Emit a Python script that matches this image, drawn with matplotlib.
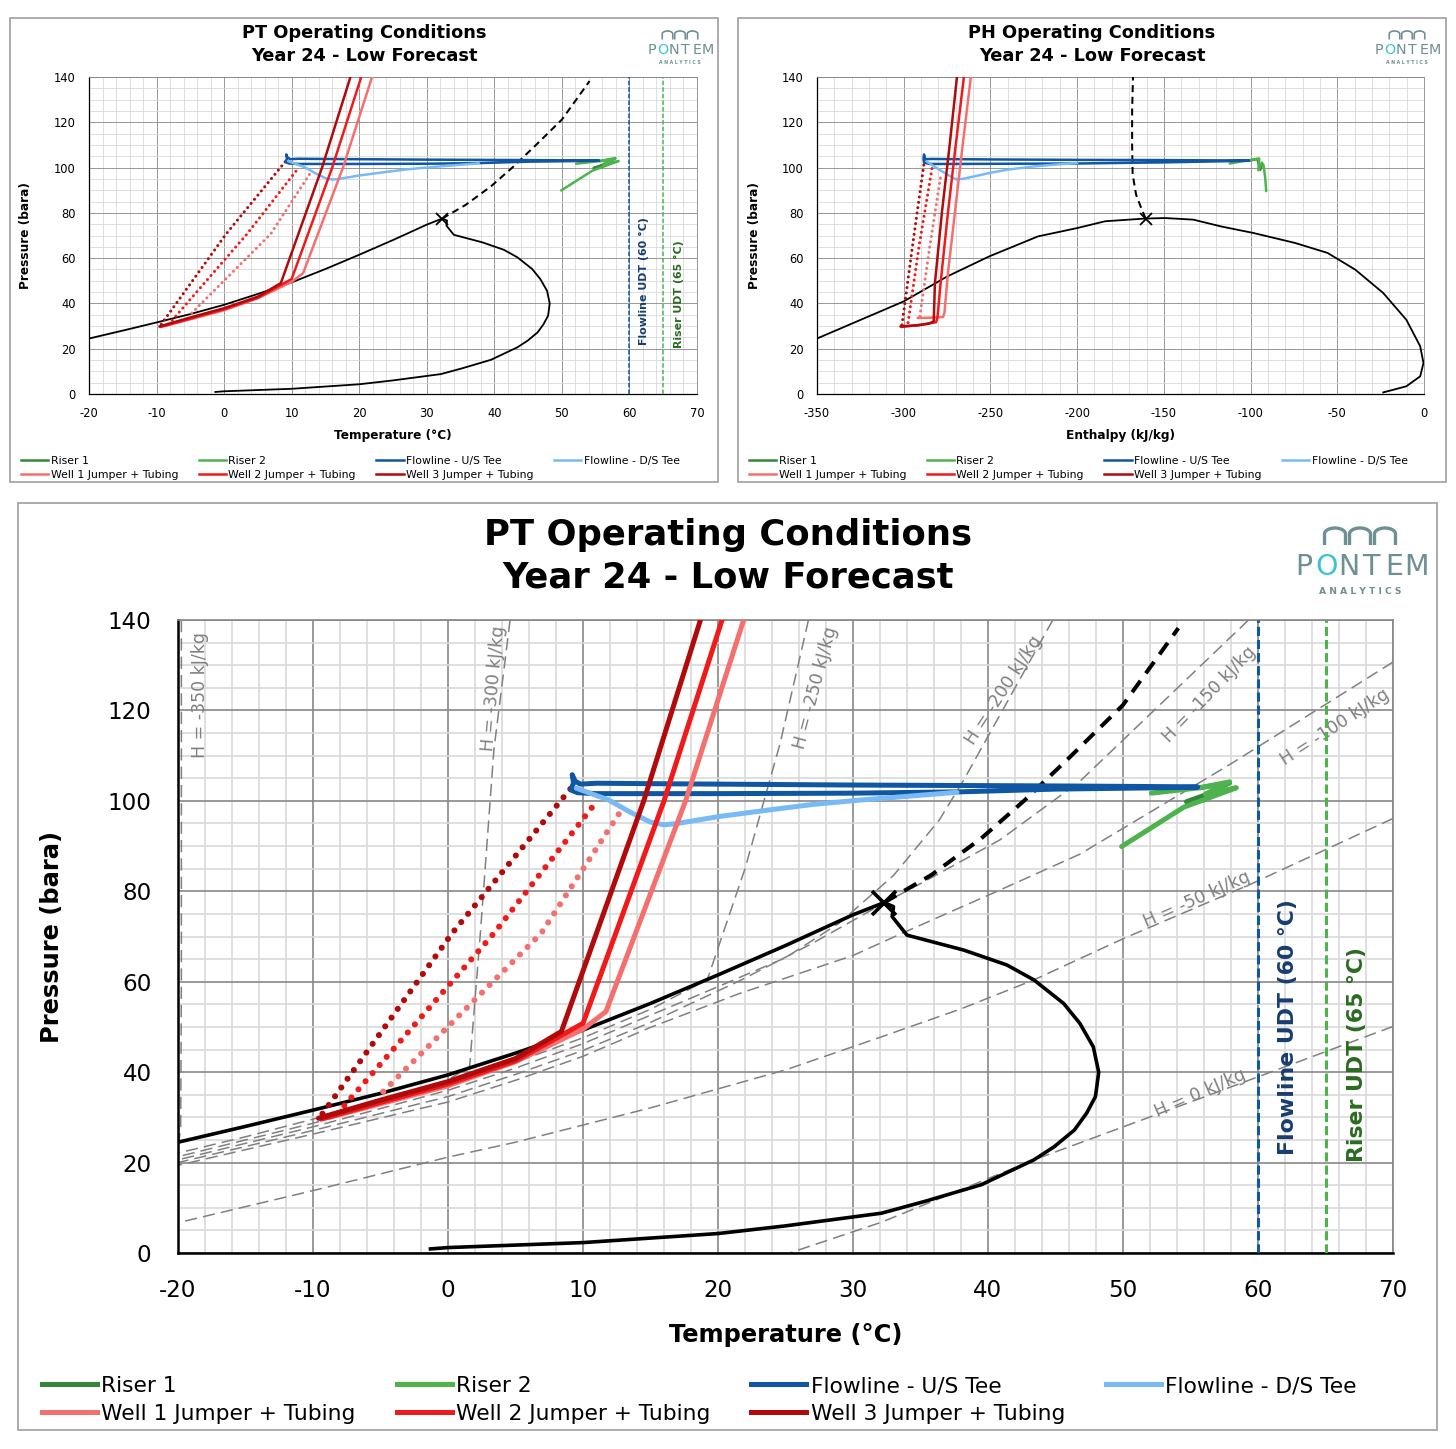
import numpy as np
import matplotlib
matplotlib.use("Agg")
import matplotlib.pyplot as plt
from matplotlib.lines import Line2D
from matplotlib.patches import Rectangle
from matplotlib.ticker import MultipleLocator

plt.rcParams['axes.unicode_minus'] = False
plt.rcParams['font.family'] = 'DejaVu Sans'

W, H = 1456, 1449

# ---------------- data ----------------
# phase envelope in P-T space
env_t = [-20, -15, -10, -5, 0, 5, 10, 15, 20, 25, 30, 32.3, 33.0, 32.9, 34.0, 38.2, 41.4, 43.4,
         45.6, 46.8, 47.8, 48.2, 47.96, 47.3, 46.4, 44.9, 43.4, 39.5, 35.3, 32.1, 25.0, 20.0, 10.0, 0.0, -1.3]
env_p = [24.5, 28.0, 31.6, 35.3, 39.4, 44.2, 49.3, 55.2, 61.5, 68.0, 74.8, 77.5, 76.6, 74.4, 70.3, 67.0, 63.7, 60.4,
         55.2, 50.8, 45.6, 40.0, 34.6, 30.9, 27.2, 23.5, 20.6, 15.1, 11.4, 8.8, 6.0, 4.3, 2.3, 1.2, 0.9]
crit_t, crit_p = 32.3, 77.5
# dense phase continuation above the critical point
dense_t = [32.3, 35.8, 39.5, 42.7, 46.0, 50.0, 54.1]
dense_p = [77.5, 83.6, 91.7, 100.1, 109.5, 121.2, 138.2]

# phase envelope in P-H space
ph_env_h = [-350, -300, -274.7, -250.6, -222.6, -199.9, -183.8, -160.5, -149, -133, -117, -98.3, -74.3,
            -55.6, -39.6, -23.5, -10.2, -2.2, -0.3, -2.2, -10.2, -23.5]
ph_env_p = [24.5, 40.9, 52.0, 60.8, 69.6, 73.3, 76.3, 77.5, 77.7, 77.0, 74.0, 71.1, 66.7,
            62.3, 54.9, 44.6, 32.8, 21.1, 13.7, 7.8, 3.4, 0.7]
ph_crit_h = -160.5
ph_dense_h = [-160.5, -163, -166, -168, -168.3, -168.3, -167.8]
ph_dense_p = [77.5, 82, 88, 97, 110, 125, 140]

# isenthalps (kJ/kg) in P-T space
isen_h = [-350, -300, -250, -200, -150, -100, -50, 0]
isen_t = [
    [-19.75, -19.75, -19.8, -20.0],
    [4.6, 3.4, 2.4, 1.6, 0, -5, -10, -15, -20],
    [26.7, 24.6, 22.0, 19.2, 15, 10, 5, 0, -10, -20],
    [44.8, 38.2, 36.4, 33.0, 29.0, 25, 20, 15, 10, 5, 0, -10, -20],
    [59.3, 46.8, 40.9, 35.5, 32.3, 27, 21.6, 15, 10, 5, 0, -10, -20],
    [70, 58, 46.8, 40.9, 34.0, 30, 21.6, 15, 10, 5, 0, -10, -20],
    [70, 59.4, 50, 43.4, 38, 32.1, 25, 15, 5, 0, -10, -20],
    [70, 56.0, 43.4, 32.1, 25.3],
]
isen_p = [
    [140, 60, 28, 22.8],
    [140, 111.3, 70.8, 41.2, 38.3, 33.6, 29.6, 25.7, 22.1],
    [140, 112.7, 85, 60.4, 53.9, 47.6, 42.2, 37.2, 28.7, 21.3],
    [140, 104.6, 95.8, 83.5, 73.0, 65.3, 58.9, 52.6, 46.3, 40.9, 36.0, 27.9, 20.6],
    [140, 104.3, 91.4, 82.5, 77.4, 68.5, 60.2, 51.0, 44.8, 39.5, 34.6, 27.1, 20.0],
    [130.7, 108.2, 88.2, 80.3, 71.2, 65.8, 57.4, 49.9, 43.5, 38.2, 33.4, 26.3, 19.4],
    [96.1, 81.5, 69.5, 60.4, 54.0, 47.8, 40.5, 32.1, 24.5, 21.2, 13.8, 6.7],
    [50.1, 34.5, 20.6, 6.8, 0],
]

flowline_udt = 60
riser_udt = 65

series_names = ['Riser 1', 'Riser 2', 'Flowline - U/S Tee', 'Flowline - D/S Tee',
                'Well 1 Jumper + Tubing', 'Well 2 Jumper + Tubing', 'Well 3 Jumper + Tubing']
series_colors = ['#33873a', '#4db34d', '#0f56a3', '#77baf5', '#f56f6f', '#f01a1a', '#b00a0a']

# operating profiles, temperature (C) vs pressure (bara)
pt_riser1_t = [55.7, 57.9, 56.0, 54.7, 56.0]
pt_riser1_p = [102.9, 104.0, 101.2, 99.8, 100.2]
pt_riser2_t = [52.1, 55.7, 57.9, 56.1, 58.4, 54.5, 49.9]
pt_riser2_p = [101.7, 102.9, 104.2, 101.5, 102.9, 98.6, 89.9]
pt_fus_t = [55.5, 45, 30, 15, 11, 9.8, 9.4, 9.2, 9.3, 9.1, 9.6, 11, 20, 30, 38, 45, 55.5]
pt_fus_p = [103.1, 103.3, 103.5, 103.8, 103.9, 103.7, 104.4, 105.8, 104.0, 102.4, 101.8, 101.6, 101.6, 101.7, 102.0, 102.6, 103.0]
pt_fds_t = [9.5, 10.7, 11.9, 13.5, 15.0, 16.0, 17.0, 20, 23.8, 27, 30.6, 34, 37.7]
pt_fds_p = [102.8, 101.5, 100.2, 97.5, 95.3, 94.7, 95.0, 96.5, 98.0, 99.2, 100.2, 101.0, 101.9]
pt_w1_t = [-8.8, -5, 0, 5, 10, 11.7, 17.6, 21.9]
pt_w1_p = [30.0, 33.0, 37.0, 42.3, 49.5, 53.4, 100, 140]
pt_w2_t = [-9.4, -8, -5, 0, 5, 10.0, 16.0, 20.3]
pt_w2_p = [29.6, 30.8, 33.3, 37.4, 42.5, 50.8, 100, 140]
pt_w3_t = [-9.6, -8, -5, 0, 5, 8.4, 14.5, 18.7]
pt_w3_p = [29.8, 31.2, 33.8, 37.9, 43.0, 49.0, 100, 140]
pt_w1_dot_t = [-4.8, 6.9, 12.7]
pt_w1_dot_p = [35.7, 70.7, 97.3]
pt_w2_dot_t = [-8.2, 3.4, 11.1]
pt_w2_dot_p = [30.8, 70.7, 100.2]
pt_w3_dot_t = [-9.3, 0.3, 9.3]
pt_w3_dot_p = [30.8, 70.7, 103.5]

# operating profiles, enthalpy (kJ/kg) vs pressure (bara)
ph_riser1_h = [-101, -96, -95, -94.5, -93.5]
ph_riser1_p = [103.0, 103.8, 100.5, 99.0, 101.0]
ph_riser2_h = [-112, -104, -95, -95.5, -93.5, -92.5, -91.5, -91.0]
ph_riser2_p = [101.8, 102.9, 104.0, 98.8, 102.2, 101.0, 95.0, 89.6]
ph_fus_h = [-101, -150, -200, -250, -284, -287.5, -288.3, -288.6, -288.3, -285, -270, -200, -150, -101]
ph_fus_p = [103.1, 103.3, 103.4, 103.6, 103.8, 103.7, 105.8, 104.0, 102.2, 101.6, 101.6, 101.8, 102.3, 103.0]
ph_fds_h = [-286.7, -283, -279, -274.7, -270, -266, -260, -250, -240, -225, -213, -200]
ph_fds_p = [102.7, 100.8, 98.8, 96.9, 94.8, 95.0, 96.0, 97.7, 99.1, 100.5, 101.3, 102.0]
ph_w1_h = [-292, -284, -277.3, -276.5, -274.5, -270.5, -266, -261.3]
ph_w1_p = [33.6, 33.7, 34.0, 36, 53.4, 80, 110, 140]
ph_w2_h = [-301.5, -290, -281.3, -280.5, -278.5, -274.5, -270, -265.3]
ph_w2_p = [29.6, 30.6, 31.7, 34, 50.8, 80, 110, 140]
ph_w3_h = [-301.9, -292, -285.3, -282.7, -282, -278, -273.5, -269.3]
ph_w3_p = [29.9, 30.3, 31.1, 32.1, 49.0, 80, 110, 140]
ph_w1_dot_h = [-290.7, -285, -278.7]
ph_w1_dot_p = [34.3, 65, 96.1]
ph_w2_dot_h = [-297.5, -291, -283.5]
ph_w2_dot_p = [31.5, 66, 100.5]
ph_w3_dot_h = [-301.0, -295.0, -288.0]
ph_w3_dot_p = [30.5, 65, 103.5]


def px_rect(x0, y0, x1, y1):
    return [x0 / W, 1 - y1 / H, (x1 - x0) / W, (y1 - y0) / H]


def style_axes(ax, s, xlo, xhi, xmaj, xmin, xlabel):
    ax.set_xlim(xlo, xhi)
    ax.set_ylim(0, 140)
    ax.xaxis.set_major_locator(MultipleLocator(xmaj))
    ax.xaxis.set_minor_locator(MultipleLocator(xmin))
    ax.yaxis.set_major_locator(MultipleLocator(20))
    ax.yaxis.set_minor_locator(MultipleLocator(5))
    ax.grid(which='minor', color='#d9d9d9', lw=1.2 * s)
    ax.grid(which='major', color='#878787', lw=1.2 * s)
    ax.set_axisbelow(True)
    ax.tick_params(which='both', length=0, labelsize=16.6 * s, pad=19 * s)
    for side in ('top', 'right'):
        ax.spines[side].set_color('#878787')
        ax.spines[side].set_linewidth(1.2 * s)
    for side in ('left', 'bottom'):
        ax.spines[side].set_color('black')
        ax.spines[side].set_linewidth(1.8 * s)
    ax.text(0.5, -0.1295, xlabel, transform=ax.transAxes, ha='center', va='center',
            fontsize=17.4 * s, fontweight='bold')
    ax.text(-0.1037, 0.5, 'Pressure (bara)', transform=ax.transAxes, ha='center', va='center',
            rotation=90, fontsize=17.4 * s, fontweight='bold')


def draw_series(ax, s, xs, dots):
    lw = 3.6 * s
    for (x, p), c in zip(dots, series_colors[4:]):
        ax.plot(x, p, color=c, lw=4.4 * s, ls=(0, (0.01, 1.75)), dash_capstyle='round', zorder=5)
    for (x, p), c in zip(xs, series_colors):
        ax.plot(x, p, color=c, lw=lw, solid_capstyle='round', solid_joinstyle='round', zorder=6)


def draw_pt(ax, s, detailed):
    style_axes(ax, s, -20, 70, 10, 2, 'Temperature (°C)')
    if detailed:
        lab_pos = [(-18.4, 123.4, 90), (3.4, 124.9, 85), (27.2, 125.0, 75), (41.2, 124.5, 57),
                   (56.4, 123.6, 46), (65.7, 116.4, 33), (55.5, 78.1, 24), (55.7, 35.3, 23.5)]
        for h, t, p, (lx, ly, rot) in zip(isen_h, isen_t, isen_p, lab_pos):
            ax.plot(t, p, color='#808080', lw=1.1, ls=(0, (8, 4)), zorder=2)
            ax.text(lx, ly, f'H = {h} kJ/kg', color='#7f7f7f', fontsize=12.5, rotation=rot,
                    ha='center', va='center', rotation_mode='anchor', zorder=2)
    ax.plot(env_t, env_p, color='black', lw=2.6 * s, zorder=3)
    ax.plot(dense_t, dense_p, color='black', lw=2.9 * s, ls=(0, (3.5, 2.3)), zorder=3)
    ax.plot(crit_t, crit_p, marker='x', ms=17 * s, mew=2.6 * s, color='black', zorder=7)
    ax.axvline(flowline_udt, color='#0f56a3', lw=2.2 * s, ls=(0, (3, 1.3)), zorder=3)
    ax.axvline(riser_udt, color='#4db34d', lw=2.2 * s, ls=(0, (3, 1.3)), zorder=3)
    ax.text(62.2, 49.9, 'Flowline UDT (60 °C)', rotation=90, ha='center', va='center',
            color='#173d70', fontsize=15.8 * s, fontweight='bold', zorder=4)
    ax.text(67.3, 43.9, 'Riser UDT (65 °C)', rotation=90, ha='center', va='center',
            color='#2a6b21', fontsize=15.8 * s, fontweight='bold', zorder=4)
    lines = [(pt_riser1_t, pt_riser1_p), (pt_riser2_t, pt_riser2_p), (pt_fus_t, pt_fus_p),
             (pt_fds_t, pt_fds_p), (pt_w1_t, pt_w1_p), (pt_w2_t, pt_w2_p), (pt_w3_t, pt_w3_p)]
    dots = [(pt_w1_dot_t, pt_w1_dot_p), (pt_w2_dot_t, pt_w2_dot_p), (pt_w3_dot_t, pt_w3_dot_p)]
    draw_series(ax, s, lines, dots)


def draw_ph(ax, s):
    style_axes(ax, s, -350, 0, 50, 10, 'Enthalpy (kJ/kg)')
    ax.plot(ph_env_h, ph_env_p, color='black', lw=2.6 * s, zorder=3)
    ax.plot(ph_dense_h, ph_dense_p, color='black', lw=2.9 * s, ls=(0, (3.5, 2.3)), zorder=3)
    ax.plot(ph_crit_h, crit_p, marker='x', ms=17 * s, mew=2.6 * s, color='black', zorder=7)
    lines = [(ph_riser1_h, ph_riser1_p), (ph_riser2_h, ph_riser2_p), (ph_fus_h, ph_fus_p),
             (ph_fds_h, ph_fds_p), (ph_w1_h, ph_w1_p), (ph_w2_h, ph_w2_p), (ph_w3_h, ph_w3_p)]
    dots = [(ph_w1_dot_h, ph_w1_dot_p), (ph_w2_dot_h, ph_w2_dot_p), (ph_w3_dot_h, ph_w3_dot_p)]
    draw_series(ax, s, lines, dots)


def draw_logo(ov, cx, ty, s):
    grey = '#6e8f93'
    # three arches
    th = np.linspace(np.pi, 0, 40)
    for i in range(3):
        xc = cx - 25 * s + i * 25 * s
        rx, ry = 10.5 * s, 6 * s
        top = ty
        bot = ty + 17 * s
        xs = np.concatenate([[xc - rx], xc + rx * np.cos(th), [xc + rx]])
        ys = np.concatenate([[bot], top + ry - ry * np.sin(th), [bot]])
        ov.plot(xs, ys, color=grey, lw=2.4 * s, solid_capstyle='butt')
    letters = 'PONTEM'
    for i, ch in enumerate(letters):
        ov.text(cx + (i - 2.5) * 22.5 * s, ty + 39 * s, ch, ha='center', va='center',
                fontsize=20.5 * s, color='#3cc4d4' if ch == 'O' else grey)
    ov.text(cx, ty + 63 * s, 'A N A L Y T I C S', ha='center', va='center',
            fontsize=6.6 * s, color=grey, fontweight='bold')


def add_legend(fig, s, x0, ytop):
    order = [0, 4, 1, 5, 2, 6, 3]
    handles = [Line2D([], [], color=series_colors[i], lw=3.6 * s) for i in order]
    labels = [series_names[i] for i in order]
    fig.legend(handles, labels, ncol=4, loc='upper left', bbox_to_anchor=(x0 / W, 1 - ytop / H),
               bbox_transform=fig.transFigure, frameon=False, fontsize=15.7 * s,
               handlelength=2.52, handletextpad=0.2, columnspacing=1.88, labelspacing=0.36,
               borderpad=0, borderaxespad=0)


fig = plt.figure(figsize=(W / 100, H / 100), dpi=100)
ov = fig.add_axes([0, 0, 1, 1])
ov.set_xlim(0, W)
ov.set_ylim(H, 0)
ov.axis('off')

# panel frames
for x0, y0, x1, y1 in [(10, 18, 718, 482), (738, 18, 1446, 482), (18, 503, 1437, 1430)]:
    ov.add_patch(Rectangle((x0, y0), x1 - x0, y1 - y0, fill=False, ec='#a6a6a6', lw=1.3))

ov.text(728, 556, 'PT Operating Conditions\nYear 24 - Low Forecast', ha='center', va='center',
        fontsize=25.5, fontweight='bold', linespacing=1.3)
ov.text(364, 44.5, 'PT Operating Conditions\nYear 24 - Low Forecast', ha='center', va='center',
        fontsize=12.8, fontweight='bold', linespacing=1.3)
ov.text(1092, 44.5, 'PH Operating Conditions\nYear 24 - Low Forecast', ha='center', va='center',
        fontsize=12.8, fontweight='bold', linespacing=1.3)
draw_logo(ov, 1360, 528, 1.0)
draw_logo(ov, 680, 31, 0.5)
draw_logo(ov, 1407, 31, 0.5)

ax_tl = fig.add_axes(px_rect(89, 77, 697, 394))
draw_pt(ax_tl, 0.5, False)
ax_tr = fig.add_axes(px_rect(817, 77, 1424, 394))
draw_ph(ax_tr, 0.5)
ax_b = fig.add_axes(px_rect(178, 620, 1393, 1253))
draw_pt(ax_b, 1.0, True)

add_legend(fig, 0.5, 21, 456)
add_legend(fig, 0.5, 749, 456)
add_legend(fig, 1.0, 42, 1376)

fig.savefig('out.png', dpi=100)
